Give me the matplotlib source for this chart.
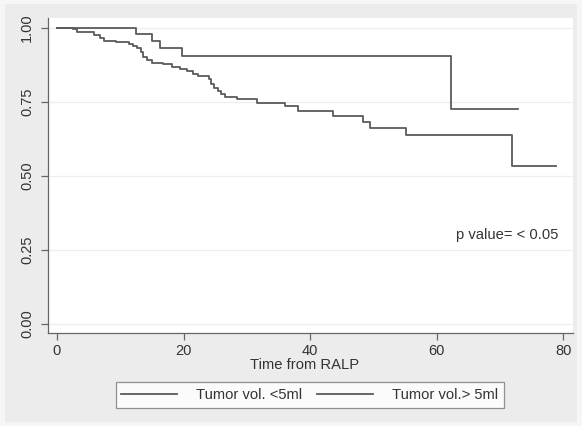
import matplotlib
matplotlib.use("Agg")
import matplotlib.pyplot as plt
from matplotlib.patches import Rectangle

plt.rcParams['font.family'] = ['Liberation Sans', 'DejaVu Sans']

# Kaplan-Meier steps (time in months, survival)
small_t = [0, 12.5, 15.0, 16.2, 19.7, 62.3, 72.9]
small_s = [1.0, 0.981, 0.957, 0.931, 0.905, 0.725, 0.725]

large_t = [0, 2.6, 3.2, 5.9, 6.8, 7.5, 9.4, 11.3, 12.0, 12.6, 13.2, 13.6, 14.3,
           15.0, 16.8, 18.1, 19.4, 20.5, 21.5, 22.3, 24.0, 24.4, 24.8, 25.4,
           25.9, 26.5, 28.5, 31.6, 36.0, 38.1, 43.6, 48.3, 49.5, 55.1, 71.9, 78.9]
large_s = [1.0, 0.995, 0.985, 0.977, 0.965, 0.957, 0.952, 0.946, 0.938, 0.931,
           0.918, 0.903, 0.893, 0.883, 0.877, 0.869, 0.861, 0.853, 0.845, 0.838,
           0.826, 0.810, 0.796, 0.786, 0.776, 0.768, 0.760, 0.746, 0.736, 0.720,
           0.702, 0.682, 0.663, 0.639, 0.534, 0.534]

labels = ["Tumor vol. <5ml", "Tumor vol.> 5ml"]
xticks = [0, 20, 40, 60, 80]
yticks = [0.0, 0.25, 0.5, 0.75, 1.0]

fs = 10.6

fig = plt.figure(figsize=(5.82, 4.26), dpi=100, facecolor='#f6f6f6')
fig.patches.append(Rectangle((5 / 582, 4 / 426), 572 / 582, 418 / 426,
                             transform=fig.transFigure, facecolor='#ececec',
                             edgecolor='none', zorder=-1))
ax = fig.add_axes([0.0825, 0.219, 0.9015, 0.739])
ax.set_facecolor('white')

line_col = '#5a5a5a'
ax.step(small_t, small_s, where='post', color=line_col, lw=1.3, label=labels[0])
ax.step(large_t, large_s, where='post', color=line_col, lw=1.3, label=labels[1])

ax.set_xlim(-1.42, 81.5)
ax.set_ylim(-0.029, 1.034)
ax.set_xticks(xticks)
ax.set_yticks(yticks)
ax.set_yticklabels(["%.2f" % v for v in yticks], rotation=90, va='center')
for v in yticks:
    ax.axhline(v, color='#eeeeee', lw=0.9, zorder=0)

for side in ['top', 'right']:
    ax.spines[side].set_visible(False)
for side in ['left', 'bottom']:
    ax.spines[side].set_color('#666666')
    ax.spines[side].set_linewidth(0.9)
ax.tick_params(axis='both', colors='#666666', labelcolor='#333333',
               labelsize=10.5, length=5, width=0.9)
ax.tick_params(axis='x', pad=3)
ax.tick_params(axis='y', pad=5)

# axis title sits just under the tick labels, as in the original
ax.text(0.489, -0.104, "Time from RALP", transform=ax.transAxes,
        ha='center', va='center', fontsize=fs, color='#333333')
ax.text(63.0, 0.30, "p value= < 0.05", ha='left', va='center',
        fontsize=fs, color='#333333')

leg = ax.legend(loc='center', bbox_to_anchor=(0.4993, -0.198), ncol=2,
                fontsize=fs, frameon=True, fancybox=False, handlelength=3.8,
                handletextpad=1.3, columnspacing=1.0, borderpad=0.4,
                borderaxespad=0)
leg.get_frame().set_edgecolor('#777777')
leg.get_frame().set_linewidth(0.9)
for t in leg.get_texts():
    t.set_color('#333333')

fig.savefig('out.png', dpi=100, facecolor=fig.get_facecolor())
